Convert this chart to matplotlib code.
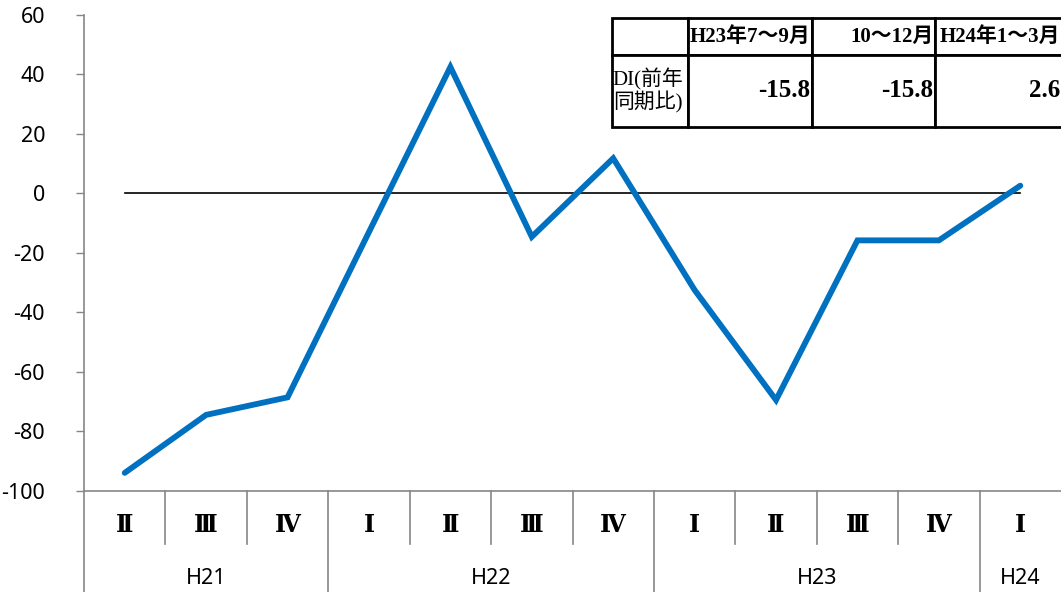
"""
DI (year-on-year) trend by quarter, H21 II to H24 I, with summary table
"""

import matplotlib.pyplot as plt
import matplotlib.transforms as mtransforms

quarters = ['Ⅱ', 'Ⅲ', 'Ⅳ', 'Ⅰ', 'Ⅱ', 'Ⅲ', 'Ⅳ', 'Ⅰ', 'Ⅱ', 'Ⅲ', 'Ⅳ', 'Ⅰ']
years = ['H21'] * 3 + ['H22'] * 4 + ['H23'] * 4 + ['H24']
di_values = [-94, -74.5, -68.6, -13, 42.5, -14.6, 11.8, -32.5, -69.5,
             -15.8, -15.8, 2.6]

table_header = ['', 'H23年7～9月', '10～12月', 'H24年1～3月']
table_label = 'DI(前年\n同期比)'
table_values = ['-15.8', '-15.8', '2.6']

y_ticks = [-100, -80, -60, -40, -20, 0, 20, 40, 60]

W, H = 1061, 592
fig = plt.figure(figsize=(W / 100, H / 100), dpi=100)
ax = fig.add_axes([84 / W, (H - 490.7) / H, (1061 - 84) / W, 475.7 / H])

x = list(range(len(di_values)))
ax.plot(x, [0] * len(x), color='black', lw=1.2, zorder=2)
ax.plot(x, di_values, color='#0070C0', lw=4.2, solid_capstyle='round',
        solid_joinstyle='miter', zorder=3)

ax.set_xlim(-0.5, len(x) - 0.5)
ax.set_ylim(-100, 60)
ax.set_yticks(y_ticks)
ax.set_yticklabels([str(v) for v in y_ticks], fontsize=15.5,
                   family='Noto Sans')
ax.tick_params(axis='y', direction='out', length=6, width=1,
               color='#868686', pad=22)
ax.set_xticks([])

for side in ['top', 'right']:
    ax.spines[side].set_visible(False)
for side in ['left', 'bottom']:
    ax.spines[side].set_color('#868686')
    ax.spines[side].set_linewidth(1.2)

# two-level category axis below the plot
trans = mtransforms.blended_transform_factory(ax.transData, ax.transAxes)
gray = '#868686'
q_depth = -53 / 475.7
y_depth = -110 / 475.7
for i, q in enumerate(quarters):
    ax.text(i, -34 / 475.7, q, transform=trans, ha='center', va='center',
            fontsize=17, weight='bold',
            family=['DejaVu Serif', 'Noto Sans CJK JP'])
    if i > 0:
        new_year = years[i] != years[i - 1]
        ax.plot([i - 0.5, i - 0.5], [0, y_depth if new_year else q_depth],
                transform=trans, color=gray, lw=1.2, clip_on=False)
ax.plot([-0.5, -0.5], [0, y_depth], transform=trans, color=gray, lw=1.2,
        clip_on=False)

start = 0
for i in range(1, len(years) + 1):
    if i == len(years) or years[i] != years[start]:
        ax.text((start + i - 1) / 2, -88 / 475.7, years[start],
                transform=trans, ha='center', va='center', fontsize=15.5,
                family='Noto Sans')
        start = i

# summary table in the upper right
tax = fig.add_axes([611.5 / W, (H - 126.7) / H, (1062 - 611.5) / W,
                    108.4 / H])
tax.axis('off')
cells = [table_header, [table_label] + table_values]
tbl = tax.table(cellText=cells, bbox=[0, 0, 1, 1],
                colWidths=[76.8, 124, 122.7, 127])
tbl.auto_set_font_size(False)
cjk = ['Liberation Serif', 'Noto Sans CJK JP']
for (r, c), cell in tbl.get_celld().items():
    cell.set_edgecolor('black')
    cell.set_linewidth(2)
    cell.set_height(0.34 if r == 0 else 0.66)
    cell.PAD = 0.015
    txt = cell.get_text()
    txt.set_family(cjk)
    if r == 0:
        txt.set_fontsize(15)
        txt.set_weight('bold')
        txt.set_ha('right')
        cell._loc = 'right'
    elif c == 0:
        txt.set_fontsize(15)
        txt.set_ha('left')
        cell._loc = 'left'
        txt.set_linespacing(1.05)
    else:
        txt.set_fontsize(18)
        txt.set_weight('bold')
        txt.set_ha('right')
        cell._loc = 'right'

fig.savefig('out.png', dpi=100)
